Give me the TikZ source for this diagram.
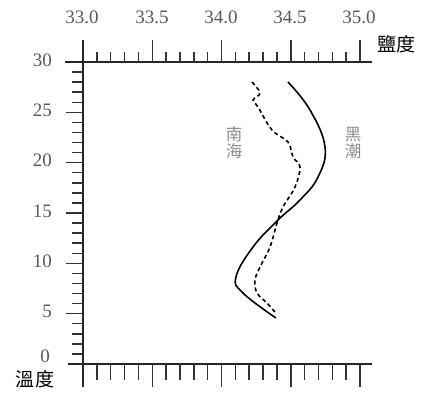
\documentclass[tikz,border=0pt]{standalone}
\usepackage{fontspec}
\setmainfont{Liberation Serif}
\newfontfamily\cjk{Noto Sans CJK TC}
\begin{document}
\begin{tikzpicture}[x=1pt,y=-1pt,
  axisline/.style={line width=1.7pt,draw=black!85},
  tickline/.style={line width=1.5pt,draw=black!80},
  numlab/.style={text=black!65,font=\fontsize{19}{19}\selectfont,inner sep=0pt},
  cjklab/.style={font=\cjk\fontsize{19}{19}\selectfont,inner sep=0pt},
  graylab/.style={font=\cjk\fontsize{16.5}{17}\selectfont,text=black!45,inner sep=0pt,align=center},
  curve/.style={line width=1.6pt,draw=black}]
\useasboundingbox (0,0) rectangle (430,392);
% left axis
\draw[axisline] (83,40) -- (83,387);
\draw[axisline] (65,62) -- (372,62);
\draw[axisline] (68,364) -- (372,364);
\foreach \t in {1,...,29}{
  \pgfmathsetmacro{\yy}{364-\t*10.067}
  \pgfmathtruncatemacro{\m}{mod(\t,5)}
  \ifnum\m=0
    \draw[tickline] (66,\yy) -- (83,\yy);
  \else
    \draw[tickline] (72,\yy) -- (83,\yy);
  \fi
}
\foreach \t in {5,10,...,30}{
  \pgfmathsetmacro{\yy}{362-\t*10.067}
  \node[numlab,anchor=east] (L\t) at (52,\yy) {\t};
}
\node[numlab,anchor=east] (L0) at (50,356) {0};
% top and bottom ticks
\foreach \i in {1,...,20}{
  \pgfmathsetmacro{\xx}{83+\i*13.85}
  \pgfmathtruncatemacro{\m}{mod(\i,5)}
  \ifnum\m=0
    \draw[tickline] (\xx,62) -- (\xx,40);
    \draw[tickline] (\xx,364) -- (\xx,387);
  \else
    \draw[tickline] (\xx,62) -- (\xx,52);
    \draw[tickline] (\xx,364) -- (\xx,380);
  \fi
}
\node[numlab] (S0) at (82,17) {33.0};
\node[numlab] (S1) at (152,17) {33.5};
\node[numlab] (S2) at (221,17) {34.0};
\node[numlab] (S3) at (290,17) {34.5};
\node[numlab] (S4) at (359,17) {35.0};
\node[cjklab] (salt) at (396,44) {鹽度};
\node[cjklab] (temp) at (35,379) {溫度};
\node[graylab] (nanhai) at (234,143) {南\\海};
\node[graylab] (kuroshio) at (353,143) {黑\\潮};
% curves
\draw[curve] plot[smooth,tension=0.7] coordinates {(288,82) (310,110) (325,147) (318,177) (300,200) (278,220) (253,247) (236,277) (243,293) (276,318)};
\draw[curve,dash pattern=on 4pt off 3pt] plot[smooth,tension=0.6] coordinates {(252,82) (260,93) (253,100) (258,107) (272,130) (288,142) (293,157) (300,167) (295,187) (283,207) (277,223) (270,247) (260,267) (255,280) (257,293) (267,303) (275,312)};
\end{tikzpicture}
\end{document}
